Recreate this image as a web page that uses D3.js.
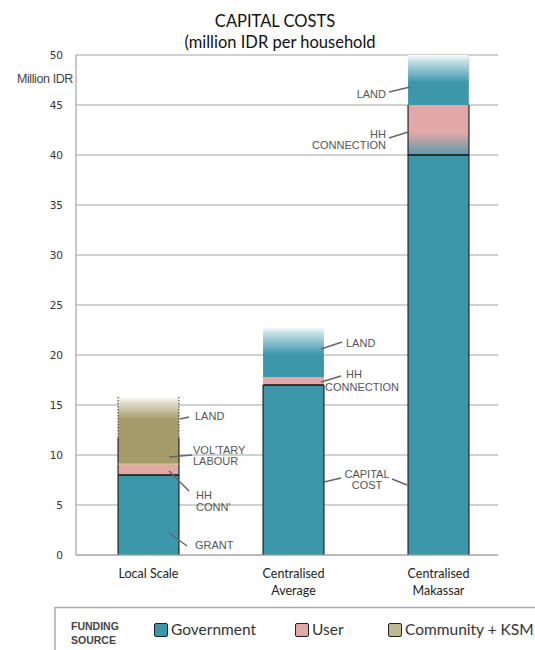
<!DOCTYPE html>
<html>
<head>
<meta charset="utf-8">
<script src="https://cdn.jsdelivr.net/npm/d3@7"></script>
<style>
  body { margin: 0; background: #fff; }
  svg { display: block; }
</style>
</head>
<body>
<div id="chart"></div>
<script>
const categories = [["Local Scale"], ["Centralised", "Average"], ["Centralised", "Makassar"]];
const capitalCost = [8, 17, 40];        // grant / capital cost (government)
const hhConnection = [1.1, 0.8, 5];     // paid by user
const voluntaryLabour = [2.6, 0, 0];    // community + KSM
const land = [4.1, 5, 5];
const landSource = ["Community + KSM", "Government", "Government"];
const sources = ["Government", "User", "Community + KSM"];
const yTicks = [0, 5, 10, 15, 20, 25, 30, 35, 40, 45, 50];

const width = 535;
const height = 650;
const margin = {top: 55, bottom: 95, left: 76, right: 24};

const colors = {
  "Government": "#3d97ab",
  "User": "#e0a8a6",
  "Community + KSM": "#a69b6a"
};
const legendColors = {
  "Government": "#3d97ab",
  "User": "#e0a8a6",
  "Community + KSM": "#bdb792"
};

const svg = d3.select("#chart").append("svg")
  .attr("width", width)
  .attr("height", height);

const x = d3.scaleBand()
  .domain(d3.range(categories.length))
  .range([margin.left, width - margin.right])
  .paddingInner(0.58)
  .paddingOuter(0.29);

const y = d3.scaleLinear()
  .domain([0, 50])
  .range([height - margin.bottom, margin.top]);

const gridRight = 498;

// stacked segments
const segments = [];
categories.forEach((c, i) => {
  let base = 0;
  const parts = [
    {key: "capital", source: "Government", v: capitalCost[i]},
    {key: "hh", source: "User", v: hhConnection[i]},
    {key: "labour", source: "Community + KSM", v: voluntaryLabour[i]},
    {key: "land", source: landSource[i], v: land[i]}
  ];
  parts.forEach(p => {
    if (p.v > 0) {
      segments.push({i, key: p.key, source: p.source, y0: base, y1: base + p.v});
      base += p.v;
    }
  });
});

// gradients
const defs = svg.append("defs");
function fadeGrad(id, color, stop) {
  const g = defs.append("linearGradient").attr("id", id)
    .attr("x1", 0).attr("y1", 0).attr("x2", 0).attr("y2", 1);
  g.append("stop").attr("offset", 0).attr("stop-color", "#ffffff");
  g.append("stop").attr("offset", 0.12).attr("stop-color", d3.interpolateRgb("#fff", color)(0.3));
  g.append("stop").attr("offset", stop).attr("stop-color", color);
  g.append("stop").attr("offset", 1).attr("stop-color", color);
}
fadeGrad("fade-gov", colors["Government"], 0.55);
fadeGrad("fade-com", colors["Community + KSM"], 0.55);
const ug = defs.append("linearGradient").attr("id", "user-mix")
  .attr("x1", 0).attr("y1", 0).attr("x2", 0).attr("y2", 1);
ug.append("stop").attr("offset", 0).attr("stop-color", colors["User"]);
ug.append("stop").attr("offset", 0.56).attr("stop-color", colors["User"]);
ug.append("stop").attr("offset", 1).attr("stop-color", "#5e98aa");

// gridlines
svg.append("g")
  .selectAll("line")
  .data(yTicks)
  .join("line")
    .attr("x1", margin.left)
    .attr("x2", gridRight)
    .attr("y1", d => y(d))
    .attr("y2", d => y(d))
    .attr("stroke", "#a3a3a3")
    .attr("stroke-width", 1.2);

// y axis
svg.append("line")
  .attr("x1", margin.left).attr("x2", margin.left)
  .attr("y1", y(50)).attr("y2", y(0))
  .attr("stroke", "#a3a3a3").attr("stroke-width", 1.2);

svg.append("g")
  .selectAll("text")
  .data(yTicks)
  .join("text")
    .attr("x", 63)
    .attr("y", d => y(d) + 4)
    .attr("text-anchor", "end")
    .attr("font-family", "DejaVu Sans, sans-serif")
    .attr("font-size", 10.5)
    .attr("fill", "#333")
    .text(d => d);

svg.append("text")
  .attr("x", 73).attr("y", 83)
  .attr("text-anchor", "end")
  .attr("font-family", "Liberation Sans, Arial, sans-serif")
  .attr("font-size", 12.5)
  .attr("letter-spacing", -0.4)
  .attr("fill", "#444")
  .text("Million IDR");

// bars
function segFill(d) {
  if (d.key === "land") return d.source === "Government" ? "url(#fade-gov)" : "url(#fade-com)";
  if (d.key === "hh" && d.i === 2) return "url(#user-mix)";
  return colors[d.source];
}

svg.append("g")
  .selectAll("rect")
  .data(segments)
  .join("rect")
    .attr("x", d => x(d.i))
    .attr("y", d => y(d.y1))
    .attr("width", x.bandwidth())
    .attr("height", d => y(d.y0) - y(d.y1))
    .attr("fill", segFill);

// outlines of solid parts
const outl = svg.append("g").attr("fill", "none");
segments.forEach(d => {
  const x0 = x(d.i), x1 = x(d.i) + x.bandwidth();
  const top = y(d.y1), bot = y(d.y0);
  if (d.key === "land") {
    const dotted = d.i === 0 ? [x0, x1] : d.i === 2 ? [x1] : [];
    dotted.forEach(xx => outl.append("line")
      .attr("x1", xx).attr("x2", xx).attr("y1", top).attr("y2", bot)
      .attr("stroke", d.i === 0 ? "#333" : "#bbb").attr("stroke-width", 1)
      .attr("stroke-dasharray", "1.5,1.5"));
    return;
  }
  const solid = d.key === "capital" || d.key === "labour" || (d.key === "hh" && d.i !== 1);
  if (solid) {
    outl.append("line").attr("x1", x0).attr("x2", x0).attr("y1", top).attr("y2", bot)
      .attr("stroke", "#222").attr("stroke-width", 1.2);
    outl.append("line").attr("x1", x1).attr("x2", x1).attr("y1", top).attr("y2", bot)
      .attr("stroke", "#222").attr("stroke-width", 1.2);
  }
  if (d.key === "capital") {
    outl.append("line").attr("x1", x0).attr("x2", x1).attr("y1", top).attr("y2", top)
      .attr("stroke", "#111").attr("stroke-width", 1.4);
  }
  if (d.key === "labour") {
    outl.append("line").attr("x1", x0).attr("x2", x1).attr("y1", bot).attr("y2", bot)
      .attr("stroke", "#c9d67a").attr("stroke-width", 1);
  }
});

// baseline
svg.append("line")
  .attr("x1", margin.left).attr("x2", gridRight)
  .attr("y1", y(0)).attr("y2", y(0))
  .attr("stroke", "#a3a3a3").attr("stroke-width", 1.2);

// annotations: anchor in bar (band offset ax, data value v), leader end (dx, dy), text lines
const annotations = [
  {i: 0, v: 13.6, ax: 62, dx: 9, dy: -2, tx: 195, lines: ["LAND"], by: [420], anchor: "start"},
  {i: 0, v: 9.8, ax: 51, dx: 23, dy: -2, tx: 193, lines: ["VOL'TARY", "LABOUR"], by: [454, 465], anchor: "start"},
  {i: 0, v: 8.4, ax: 51, dx: 20, dy: 20, tx: 196, lines: ["HH", "CONN'"], by: [499, 511], anchor: "start"},
  {i: 0, v: 2.2, ax: 51, dx: 18, dy: 13, tx: 195, lines: ["GRANT"], by: [549], anchor: "start"},
  {i: 1, v: 20.6, ax: 58, dx: 21, dy: -7, tx: 346, lines: ["LAND"], by: [347], anchor: "start"},
  {i: 1, v: 17.3, ax: 58, dx: 20, dy: -6, tx: [346, 325], lines: ["HH", "CONNECTION"], by: [378, 391], anchor: "start"},
  {i: 1, v: 7.3, ax: 61, dx: 17, dy: -4, tx: 367, lines: ["CAPITAL", "COST"], by: [478, 489], anchor: "middle"},
  {i: 2, v: 7.0, ax: -1, dx: -15, dy: -6, tx: null, lines: [], by: [], anchor: "start"},
  {i: 2, v: 46.8, ax: 2, dx: -21, dy: 5, tx: 386, lines: ["LAND"], by: [98], anchor: "end"},
  {i: 2, v: 42.3, ax: 0, dx: -19, dy: 6, tx: 386, lines: ["HH", "CONNECTION"], by: [138, 149], anchor: "end"}
];

const ann = svg.append("g");
annotations.forEach(a => {
  const sx = x(a.i) + a.ax, sy = y(a.v);
  ann.append("line")
    .attr("x1", sx).attr("y1", sy)
    .attr("x2", sx + a.dx).attr("y2", sy + a.dy)
    .attr("stroke", "#666").attr("stroke-width", 1.5);
  a.lines.forEach((t, k) => {
    ann.append("text")
      .attr("x", Array.isArray(a.tx) ? a.tx[k] : a.tx)
      .attr("y", a.by[k])
      .attr("text-anchor", a.anchor)
      .attr("font-family", "Liberation Sans, Arial, sans-serif")
      .attr("font-size", 11)
      .attr("fill", "#555")
      .text(t);
  });
});

// category labels
const xl = svg.append("g")
  .selectAll("text")
  .data(categories)
  .join("text")
    .attr("x", (d, i) => x(i) + x.bandwidth() / 2)
    .attr("y", 578)
    .attr("text-anchor", "middle")
    .attr("font-family", "Lato, sans-serif")
    .attr("font-size", 12.5)
    .attr("fill", "#222");
xl.selectAll("tspan")
  .data(d => d)
  .join("tspan")
    .attr("x", function() { return this.parentNode.getAttribute("x"); })
    .attr("dy", (d, k) => k === 0 ? 0 : 16.5)
    .text(d => d);

// title
svg.append("text")
  .attr("x", 275).attr("y", 27)
  .attr("text-anchor", "middle")
  .attr("font-family", "Lato, sans-serif")
  .attr("font-size", 16.5)
  .attr("fill", "#111")
  .text("CAPITAL COSTS");
svg.append("text")
  .attr("x", 280).attr("y", 48)
  .attr("text-anchor", "middle")
  .attr("font-family", "Lato, sans-serif")
  .attr("font-size", 16.5)
  .attr("fill", "#111")
  .text("(million IDR per household");

// legend frame
svg.append("path")
  .attr("d", "M55,650V607.5H535")
  .attr("fill", "none")
  .attr("stroke", "#aaa")
  .attr("stroke-width", 1.5);

svg.append("text")
  .attr("x", 71).attr("y", 630)
  .attr("font-family", "Liberation Sans, Arial, sans-serif")
  .attr("font-weight", "bold")
  .attr("font-size", 10.5)
  .attr("fill", "#444")
  .text("FUNDING");
svg.append("text")
  .attr("x", 71).attr("y", 644)
  .attr("font-family", "Liberation Sans, Arial, sans-serif")
  .attr("font-weight", "bold")
  .attr("font-size", 10.5)
  .attr("fill", "#444")
  .text("SOURCE");

const legendX = [154, 295, 388];
const lg = svg.append("g")
  .selectAll("g")
  .data(sources)
  .join("g")
    .attr("transform", (d, i) => `translate(${legendX[i]},623)`);
lg.append("rect")
  .attr("x", 0.5).attr("y", 0.5)
  .attr("width", 13).attr("height", 13)
  .attr("rx", 1.5)
  .attr("fill", d => legendColors[d])
  .attr("stroke", "#222")
  .attr("stroke-width", 1);
lg.append("text")
  .attr("x", 17).attr("y", 11.5)
  .attr("font-family", "Lato, sans-serif")
  .attr("font-size", 15.5)
  .attr("fill", "#333")
  .text(d => d);
</script>
</body>
</html>
